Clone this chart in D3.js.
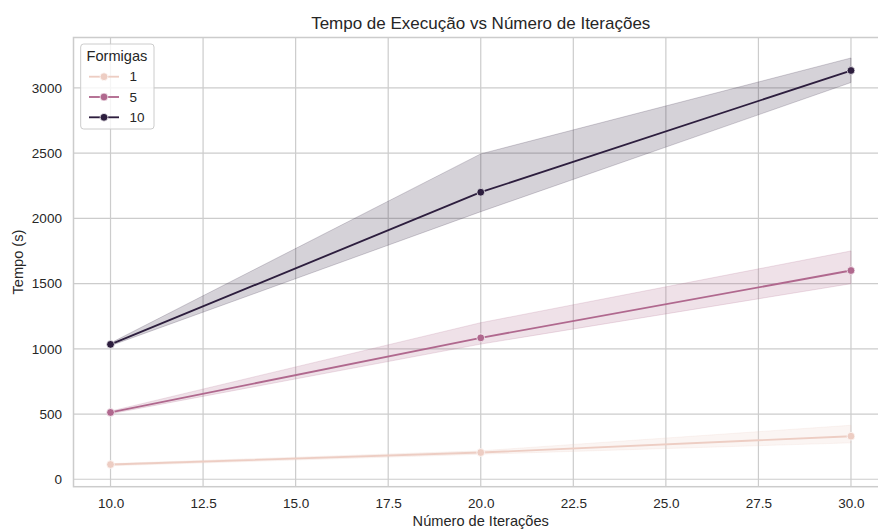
<!DOCTYPE html>
<html><head><meta charset="utf-8">
<script src="https://cdn.jsdelivr.net/npm/d3@7/dist/d3.min.js"></script>
<style>body{margin:0;background:#fff}svg{display:block;font-family:"Liberation Sans",Arial,sans-serif}</style>
</head><body><svg id="c" width="878" height="532"></svg>
<script>
const iterations = [10, 20, 30];
const formigas = [1, 5, 10];
const meanF1 = [113, 205, 330];
const meanF5 = [512, 1084, 1600];
const meanF10 = [1034, 2200, 3133];
const lowF1 = [103, 192, 279];
const highF1 = [120, 218, 414];
const lowF5 = [502, 1036, 1499];
const highF5 = [522, 1200, 1750];
const lowF10 = [1024, 2051, 3041];
const highF10 = [1044, 2494, 3229];
const xTicks = [10, 12.5, 15, 17.5, 20, 22.5, 25, 27.5, 30];
const yTicks = [0, 500, 1000, 1500, 2000, 2500, 3000];
const colors = ["#edcdc3", "#b0688e", "#2d1e3e"];
const title = "Tempo de Execução vs Número de Iterações";
const xLabel = "Número de Iterações";
const yLabel = "Tempo (s)";
const legendTitle = "Formigas";

const series = [
  {k: formigas[0], mean: meanF1, low: lowF1, high: highF1, color: colors[0]},
  {k: formigas[1], mean: meanF5, low: lowF5, high: highF5, color: colors[1]},
  {k: formigas[2], mean: meanF10, low: lowF10, high: highF10, color: colors[2]}
];

const L = 73.5, R = 888, T = 37.5, B = 486.7;
const x = d3.scaleLinear().domain([9, 31]).range([L, R]);
const y = d3.scaleLinear().domain([-57, 3386]).range([B, T]);
const svg = d3.select("#c");
const txt = "#262626", grid = "#cccccc";

// grid
svg.append("g").selectAll("line").data(xTicks).join("line")
  .attr("x1", d => x(d)).attr("x2", d => x(d)).attr("y1", T).attr("y2", B)
  .attr("stroke", grid).attr("stroke-width", 1.2);
svg.append("g").selectAll("line").data(yTicks).join("line")
  .attr("y1", d => y(d)).attr("y2", d => y(d)).attr("x1", L).attr("x2", R)
  .attr("stroke", grid).attr("stroke-width", 1.2);

// axes (labels only)
const xAxis = svg.append("g").attr("transform", `translate(0,${B})`)
  .call(d3.axisBottom(x).tickValues(xTicks).tickFormat(d3.format(".1f")).tickSize(0).tickPadding(11.6));
const yAxis = svg.append("g").attr("transform", `translate(${L},0)`)
  .call(d3.axisLeft(y).tickValues(yTicks).tickFormat(d3.format("d")).tickSize(0).tickPadding(11.6));
[xAxis, yAxis].forEach(a => {
  a.select(".domain").remove();
  a.selectAll("text").attr("fill", txt).style("font-size", "13.5px").style("font-family", '"Liberation Sans",Arial,sans-serif');
});
xAxis.selectAll("text").attr("dy", "0.75em");

// bands
const area = d3.area().x((d, i) => x(iterations[i])).y0(d => y(d[0])).y1(d => y(d[1]));
const line = d3.line().x((d, i) => x(iterations[i])).y(d => y(d));
series.forEach(s => {
  svg.append("path").datum(s.low.map((v, i) => [v, s.high[i]]))
    .attr("d", area).attr("fill", s.color).attr("fill-opacity", 0.2)
    .attr("stroke", s.color).attr("stroke-opacity", 0.2).attr("stroke-width", 1);
});
series.forEach(s => {
  svg.append("path").datum(s.mean).attr("d", line).attr("fill", "none")
    .attr("stroke", s.color).attr("stroke-width", 1.85);
  svg.append("g").selectAll("circle").data(s.mean).join("circle")
    .attr("cx", (d, i) => x(iterations[i])).attr("cy", d => y(d)).attr("r", 3.9)
    .attr("fill", s.color).attr("stroke", "#fff").attr("stroke-width", 0.7);
});

// frame
svg.append("rect").attr("x", L).attr("y", T).attr("width", R - L).attr("height", B - T)
  .attr("fill", "none").attr("stroke", grid).attr("stroke-width", 1.5);

// title & labels
svg.append("text").attr("x", (L + R) / 2).attr("y", 29).attr("text-anchor", "middle")
  .attr("fill", txt).style("font-size", "17px").text(title);
svg.append("text").attr("x", (L + R) / 2).attr("y", 526).attr("text-anchor", "middle")
  .attr("fill", txt).style("font-size", "14.6px").text(xLabel);
svg.append("text").attr("transform", `translate(23,${(T + B) / 2}) rotate(-90)`).attr("text-anchor", "middle")
  .attr("fill", txt).style("font-size", "14.6px").text(yLabel);

// legend
const lg = svg.append("g");
lg.append("rect").attr("x", 80.7).attr("y", 44).attr("width", 73.3).attr("height", 85).attr("rx", 3)
  .attr("fill", "#fff").attr("fill-opacity", 0.8).attr("stroke", grid).attr("stroke-width", 1);
lg.append("text").attr("x", 86.5).attr("y", 60.5).attr("fill", txt).style("font-size", "14.6px").text(legendTitle);
series.forEach((s, i) => {
  const yy = 76.7 + i * 20.3;
  lg.append("line").attr("x1", 89).attr("x2", 119).attr("y1", yy).attr("y2", yy)
    .attr("stroke", s.color).attr("stroke-width", 1.85);
  lg.append("circle").attr("cx", 104).attr("cy", yy).attr("r", 3.9)
    .attr("fill", s.color).attr("stroke", "#fff").attr("stroke-width", 0.7);
  lg.append("text").attr("x", 129.5).attr("y", yy).attr("dy", "0.35em").attr("fill", txt)
    .style("font-size", "13.5px").text(s.k);
});
</script></body></html>
